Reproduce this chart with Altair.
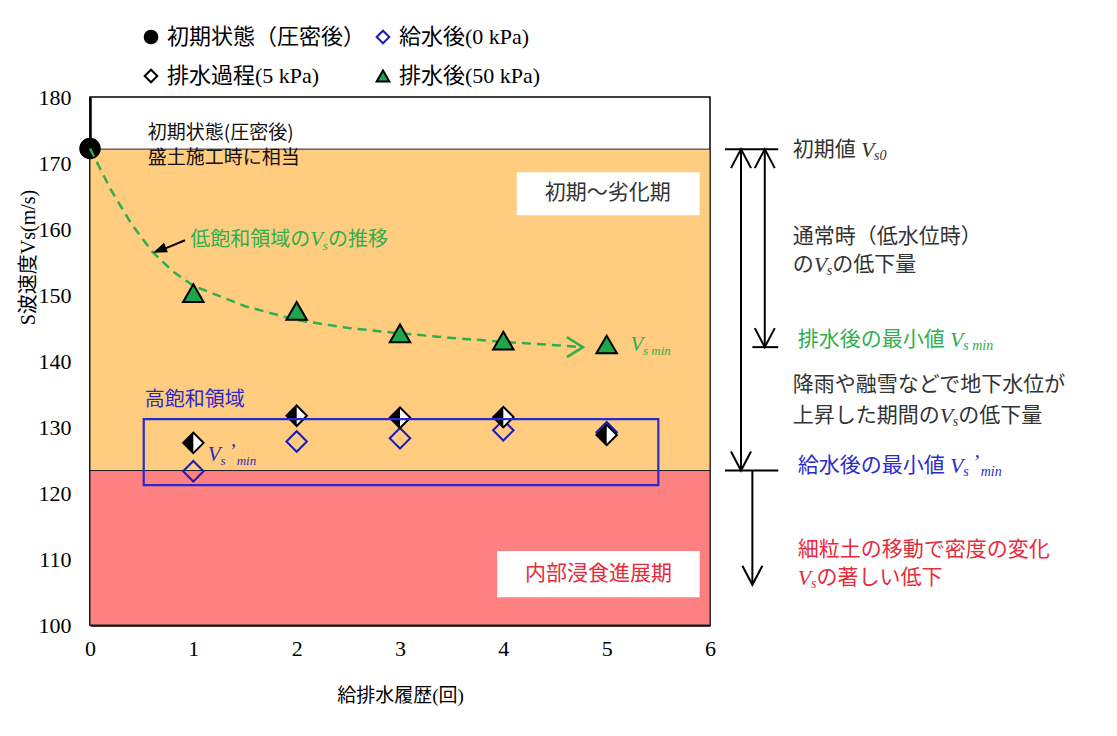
import altair as alt
import pandas as pd

# ---------------- data ----------------
series_names = ["初期状態（圧密後）", "排水過程(5 kPa)", "給水後(0 kPa)", "排水後(50 kPa)"]
initial_x = [0]
initial_vs = [172.2]
cycles = [1, 2, 3, 4, 5]
vs_supply_0kpa = [123.3, 127.8, 128.3, 129.5, 129.2]
vs_drain_5kpa = [127.6, 131.7, 131.4, 131.5, 128.8]
vs_drain_50kpa = [150.3, 147.6, 144.2, 143.1, 142.5]

trend_x = [0, 0.2, 0.4, 0.6, 0.8, 1.0, 1.5, 2.0, 2.5, 3.0, 3.5, 4.0, 4.5, 4.77]
trend_vs = [172.2, 166.0, 160.8, 156.6, 153.6, 151.4, 148.3, 146.2, 145.0, 144.2, 143.5, 142.9, 142.4, 142.1]

x_ticks = [0, 1, 2, 3, 4, 5, 6]
y_ticks = [100, 110, 120, 130, 140, 150, 160, 170, 180]

vs0_level = 172.1
vs_min_level = 142.1
vs_min_prime_level = 123.4
erosion_arrow_end = 106.1

zone_x = [0, 6]
zone_initial_y = [vs_min_prime_level, vs0_level]
zone_erosion_y = [100, vs_min_prime_level]
box_initial_x = [4.13, 5.9]
box_initial_y = [162.1, 168.6]
box_erosion_x = [3.94, 5.9]
box_erosion_y = [104.2, 111.2]
high_sat_x = [0.52, 5.5]
high_sat_y = [121.2, 131.2]

# colours
ORANGE = "#FFCC80"
RED_ZONE = "#FF8080"
GREEN = "#2DAF4E"
TRI_GREEN = "#1FA64A"
BLUE = "#2A2ACB"
DIAMOND_BLUE = "#1C1CB4"
RED_TXT = "#E82A3A"
DARK = "#333333"

CJK = "Noto Sans CJK JP"
SERIF = "Liberation Serif"
MIXED = "Liberation Serif, Noto Sans CJK JP"

PX = 620 / 6.0  # pixels per x unit (plot width / domain)

xscale = alt.Scale(domain=[0, 6], nice=False, zero=False)
yscale = alt.Scale(domain=[100, 180], nice=False, zero=False)
xaxis = alt.Axis(values=x_ticks, format="d", title="給排水履歴(回)", grid=False, ticks=False,
                 labelFont=SERIF, labelFontSize=22, labelColor="black", labelPadding=13,
                 labelFlush=False,
                 domainColor="black", domainWidth=2.5,
                 titleFont=MIXED, titleFontSize=19, titleFontWeight="normal", titleColor="black",
                 titleY=70, titleBaseline="middle")
yaxis = alt.Axis(values=y_ticks, format="d", title="S波速度Vs(m/s)", grid=False, ticks=False,
                 labelFont=SERIF, labelFontSize=22, labelColor="black", labelPadding=19,
                 labelFlush=False,
                 domainColor="black", domainWidth=2.5,
                 titleFont=MIXED, titleFontSize=20, titleFontWeight="normal", titleColor="black",
                 titleX=-62, titleY=160, titleAngle=270, titleAlign="center", titleBaseline="middle")


def X(f):
    return alt.X(f"{f}:Q", scale=xscale, axis=xaxis)


def Y(f):
    return alt.Y(f"{f}:Q", scale=yscale, axis=yaxis)


layers = []

# ---------------- background zones ----------------
zones = pd.DataFrame({
    "x1": [zone_x[0], zone_x[0]], "x2": [zone_x[1], zone_x[1]],
    "y1": [zone_initial_y[0], zone_erosion_y[0]], "y2": [zone_initial_y[1], zone_erosion_y[1]],
    "c": [ORANGE, RED_ZONE],
})
layers.append(alt.Chart(zones).mark_rect(stroke="#222222", strokeWidth=1).encode(
    x=X("x1"), x2="x2", y=Y("y1"), y2="y2", fill=alt.Fill("c:N", scale=None)))

boxes = pd.DataFrame({
    "x1": [box_initial_x[0], box_erosion_x[0]], "x2": [box_initial_x[1], box_erosion_x[1]],
    "y1": [box_initial_y[0], box_erosion_y[0]], "y2": [box_initial_y[1], box_erosion_y[1]],
})
layers.append(alt.Chart(boxes).mark_rect(color="white").encode(
    x=X("x1"), x2="x2", y=Y("y1"), y2="y2"))

# ---------------- initial point, trend curve ----------------
init_df = pd.DataFrame({"x": initial_x, "y": initial_vs})
layers.append(alt.Chart(init_df).mark_point(shape="circle", filled=True, fill="black", stroke="black",
                                            size=400, strokeWidth=1.5, opacity=1).encode(x=X("x"), y=Y("y")))

trend_df = pd.DataFrame({"x": trend_x, "y": trend_vs})
layers.append(alt.Chart(trend_df).mark_line(color=GREEN, strokeWidth=2.5, strokeDash=[9, 6]).encode(
    x=X("x"), y=Y("y")))
layers.append(alt.Chart(trend_df.tail(1)).mark_point(shape="M-1.6,-1L0,0L-1.6,1", filled=False, stroke=GREEN,
                                                     size=400, strokeWidth=2.5, opacity=1).encode(
    x=X("x"), y=Y("y")))

# ---------------- measured points (legend) ----------------
pts = pd.DataFrame({
    "x": cycles * 3,
    "y": vs_drain_50kpa + vs_supply_0kpa + vs_drain_5kpa,
    "series": [series_names[3]] * 5 + [series_names[2]] * 5 + [series_names[1]] * 5,
})
leg = alt.Legend(orient="none", legendX=50, legendY=-71, columns=2, title=None,
                 labelFont=MIXED, labelFontSize=22, labelColor="black", labelLimit=400,
                 symbolSize=160, symbolStrokeWidth=2, rowPadding=17, columnPadding=6,
                 labelOffset=5, padding=0)
layers.append(alt.Chart(pts).mark_point(filled=True, size=420, strokeWidth=2, opacity=1).encode(
    x=X("x"), y=Y("y"),
    shape=alt.Shape("series:N", scale=alt.Scale(domain=series_names,
                                                 range=["circle", "diamond", "diamond", "triangle-up"]), legend=leg),
    fill=alt.Fill("series:N", scale=alt.Scale(domain=series_names,
                                               range=["black", "white", "transparent", TRI_GREEN]), legend=leg),
    stroke=alt.Stroke("series:N", scale=alt.Scale(domain=series_names,
                                                   range=["black", "black", DIAMOND_BLUE, "black"]), legend=leg),
))
half_df = pd.DataFrame({"x": cycles, "y": vs_drain_5kpa})
layers.append(alt.Chart(half_df).mark_point(shape="M0,-1L-1,0L0,1Z", filled=True, fill="black",
                                            size=420, strokeWidth=0, opacity=1).encode(x=X("x"), y=Y("y")))

# high-saturation box
hs = pd.DataFrame({"x1": [high_sat_x[0]], "x2": [high_sat_x[1]], "y1": [high_sat_y[0]], "y2": [high_sat_y[1]]})
layers.append(alt.Chart(hs).mark_rect(fillOpacity=0, stroke=BLUE, strokeWidth=2.2).encode(
    x=X("x1"), x2="x2", y=Y("y1"), y2="y2"))

# ---------------- arrows ----------------
rules = pd.DataFrame({
    "x1": [6.30, 6.53, 6.41, 6.145, 6.41, 6.145, 0.92],
    "x2": [6.30, 6.53, 6.41, 6.66, 6.66, 6.66, 0.66],
    "y1": [vs0_level, vs0_level, vs_min_prime_level, vs0_level, vs_min_level, vs_min_prime_level, 158.3],
    "y2": [vs_min_prime_level, vs_min_level, erosion_arrow_end, vs0_level, vs_min_level, vs_min_prime_level, 156.6],
})
layers.append(alt.Chart(rules).mark_rule(color="black", strokeWidth=2).encode(
    x=X("x1"), x2="x2", y=Y("y1"), y2="y2"))

ups = pd.DataFrame({"x": [6.30, 6.53], "y": [vs0_level, vs0_level]})
layers.append(alt.Chart(ups).mark_point(shape="M-1,1.9L0,0L1,1.9", filled=False, stroke="black",
                                        size=400, strokeWidth=2, opacity=1).encode(x=X("x"), y=Y("y")))
downs = pd.DataFrame({"x": [6.53, 6.30, 6.41], "y": [vs_min_level, vs_min_prime_level, erosion_arrow_end]})
layers.append(alt.Chart(downs).mark_point(shape="M-1,-1.9L0,0L1,-1.9", filled=False, stroke="black",
                                          size=400, strokeWidth=2, opacity=1).encode(x=X("x"), y=Y("y")))
tip = pd.DataFrame({"x": [0.61], "y": [156.4]})
layers.append(alt.Chart(tip).mark_point(shape="M0,0L-0.8,2.2L0.8,2.2Z", filled=True, fill="black",
                                        size=160, strokeWidth=0, angle=248, opacity=1).encode(x=X("x"), y=Y("y")))

# ---------------- annotation texts ----------------
def char_w(ch, size, kind):
    if ord(ch) > 0x2000 and ch != "’":
        return size * 1.0
    if kind in ("cjk", "center"):
        return size * {" ": 0.25, "(": 0.33, ")": 0.33}.get(ch, 0.55)
    return size * {"V": 0.6, "s": 0.39, "0": 0.5, " ": 0.25, "m": 0.72, "i": 0.28,
                   "n": 0.5, "’": 0.4}.get(ch, 0.5)


rows = []


def rich(x, y, pieces, color, fs):
    off = 0.0
    for text, kind in pieces:
        if kind == "V":
            size = fs + 1
        elif kind == "sub":
            size = round(fs * 0.66)
        else:
            size = fs
        rows.append(dict(x=x + off / PX, y=y, t=text, c=color, fs=size, kind=kind))
        off += sum(char_w(ch, size, kind) for ch in text)


rich(0.56, 174.5, [("初期状態(圧密後)", "cjk")], "#111111", 19)
rich(0.56, 170.8, [("盛土施工時に相当", "cjk")], "#111111", 19)
rich(5.01, 165.4, [("初期～劣化期", "center")], DARK, 21)
rich(0.97, 158.3, [("低飽和領域の", "cjk"), ("V", "V"), ("s", "sub"), ("の推移", "cjk")], GREEN, 20)
rich(0.53, 134.1, [("高飽和領域", "cjk")], BLUE, 20)
rich(1.14, 125.8, [("V", "V"), ("s ", "sub"), ("’", "prime"), ("min", "sub")], BLUE, 20)
rich(4.92, 107.7, [("内部浸食進展期", "center")], RED_TXT, 21)
rich(5.23, 142.4, [("V", "V"), ("s min", "sub")], GREEN, 20)

rich(6.80, 172.0, [("初期値 ", "cjk"), ("V", "V"), ("s0", "sub")], DARK, 21)
rich(6.80, 158.8, [("通常時（低水位時）", "cjk")], DARK, 21)
rich(6.80, 154.5, [("の", "cjk"), ("V", "V"), ("s", "sub"), ("の低下量", "cjk")], DARK, 21)
rich(6.85, 143.2, [("排水後の最小値 ", "cjk"), ("V", "V"), ("s min", "sub")], GREEN, 21)
rich(6.80, 136.4, [("降雨や融雪などで地下水位が", "cjk")], DARK, 21)
rich(6.80, 131.7, [("上昇した期間の", "cjk"), ("V", "V"), ("s", "sub"), ("の低下量", "cjk")], DARK, 21)
rich(6.85, 124.1, [("給水後の最小値 ", "cjk"), ("V", "V"), ("s ", "sub"), ("’", "prime"), ("min", "sub")], BLUE, 21)
rich(6.85, 111.4, [("細粒土の移動で密度の変化", "cjk")], RED_TXT, 21)
rich(6.85, 107.1, [("V", "V"), ("s", "sub"), ("の著しい低下", "cjk")], RED_TXT, 21)

tdf = pd.DataFrame(rows)
text_styles = {
    "cjk": dict(font=CJK, align="left", baseline="middle"),
    "center": dict(font=CJK, align="center", baseline="middle"),
    "V": dict(font=SERIF, fontStyle="italic", align="left", baseline="middle"),
    "sub": dict(font=SERIF, fontStyle="italic", align="left", baseline="middle", dy=6),
    "prime": dict(font=SERIF, fontStyle="italic", align="left", baseline="middle", dy=-3),
}
for kind, style in text_styles.items():
    sub = tdf[tdf["kind"] == kind]
    if len(sub) == 0:
        continue
    layers.append(alt.Chart(sub).mark_text(**style).encode(
        x=X("x"), y=Y("y"), text="t:N",
        color=alt.Color("c:N", scale=None), size=alt.Size("fs:Q", scale=None)))

chart = alt.layer(*layers).properties(
    width=620, height=528,
    padding={"left": 82, "top": 89, "right": 395, "bottom": 100},
    autosize=alt.AutoSizeParams(type="none"),
    background="white",
).configure_view(stroke="black", strokeWidth=1.5).configure_axis(
    labelFont=SERIF, titleFont=MIXED)

chart.save("out.html", embed_options={"renderer": "svg", "actions": False})
